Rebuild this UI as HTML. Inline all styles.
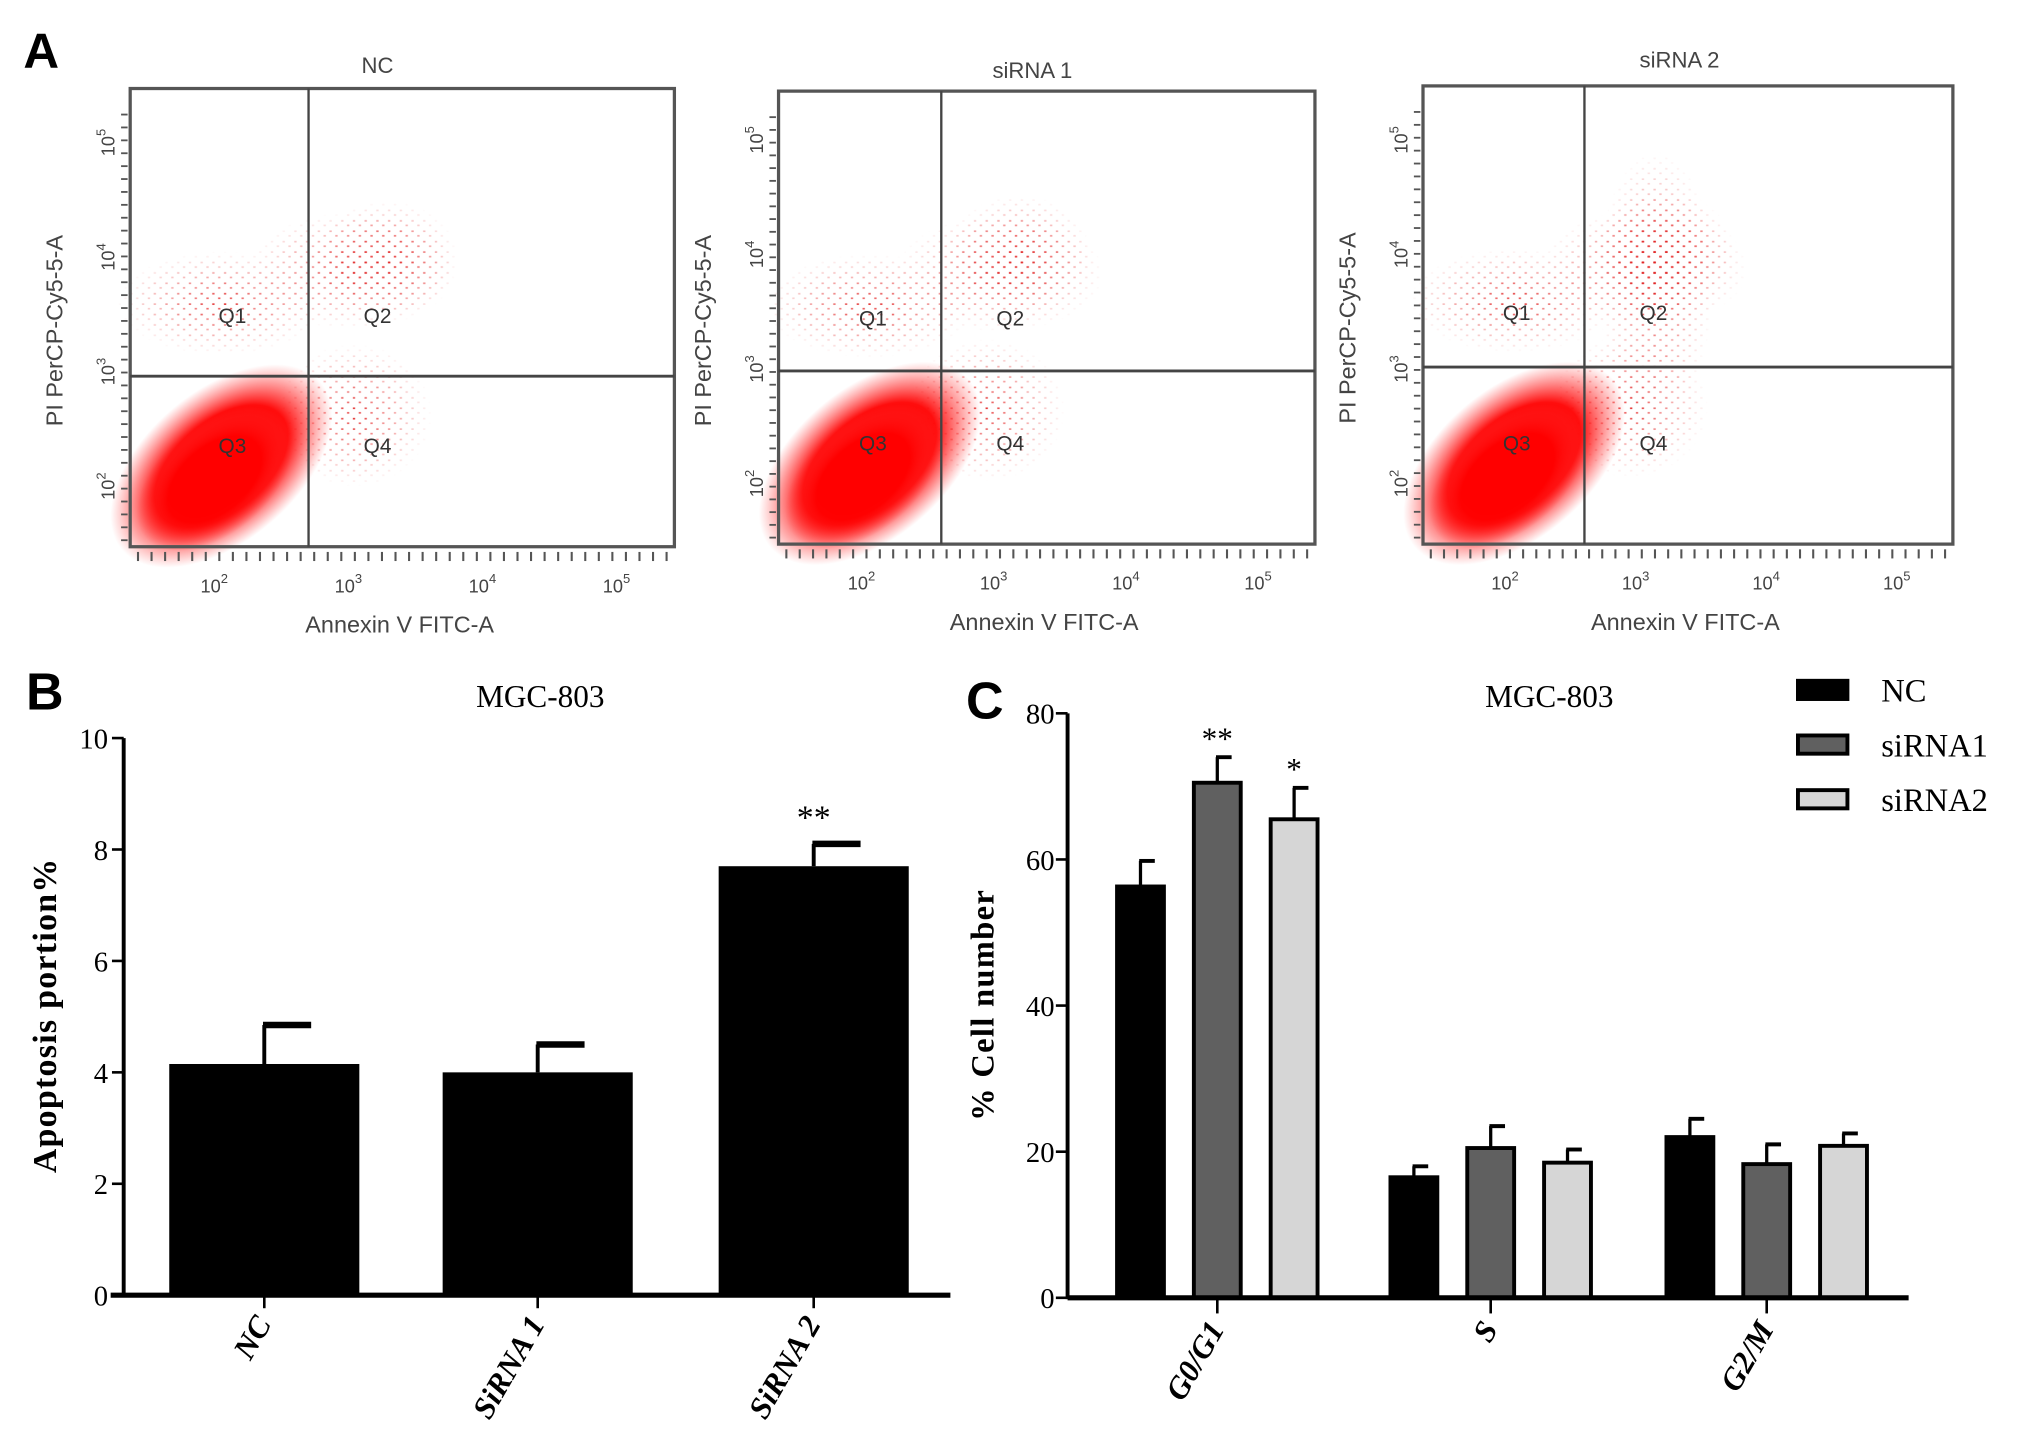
<!DOCTYPE html>
<html><head><meta charset="utf-8"><style>
html,body{margin:0;padding:0;background:#fff}
svg{display:block}
text{font-family:"Liberation Serif",serif}
.sans{font-family:"Liberation Sans",sans-serif}
</style></head><body>
<svg id="fig" width="2031" height="1441" viewBox="0 0 1560 1107" preserveAspectRatio="none" xmlns="http://www.w3.org/2000/svg">
<defs>
<radialGradient id="core" cx="50%" cy="50%" r="50%">
<stop offset="0" stop-color="#ff0000" stop-opacity="1"/>
<stop offset="0.6" stop-color="#ff0000" stop-opacity="0.95"/>
<stop offset="1" stop-color="#ff3030" stop-opacity="0"/>
</radialGradient>
<pattern id="dots" width="9" height="8" patternUnits="userSpaceOnUse">
<rect x="1" y="1" width="1.8" height="1.3" fill="#e02020"/>
<rect x="5.5" y="4.5" width="1.8" height="1.3" fill="#e84040"/>
</pattern>
<radialGradient id="fade" cx="50%" cy="50%" r="50%">
<stop offset="0" stop-color="#fff" stop-opacity="1"/>
<stop offset="1" stop-color="#fff" stop-opacity="0"/>
</radialGradient>
<mask id="m1" maskContentUnits="objectBoundingBox"><rect width="1" height="1" fill="url(#fade)"/></mask>
</defs>

<text x="18" y="52" class="sans" font-size="38" font-weight="bold">A</text>
<g id="flow"></g>

<!-- Panel B -->
<text x="20" y="545" class="sans" font-size="40" font-weight="bold">B</text>
<text x="415" y="543" font-size="24" text-anchor="middle">MGC-803</text>
<text transform="translate(43,780) rotate(-90)" font-size="26" font-weight="bold" text-anchor="middle" letter-spacing="1">Apoptosis portion%</text>
<g id="chartB"></g>

<!-- Panel C -->
<text x="742" y="552" class="sans" font-size="40" font-weight="bold">C</text>
<text x="1190" y="543" font-size="24" text-anchor="middle">MGC-803</text>
<text transform="translate(763,772) rotate(-90)" font-size="25" font-weight="bold" text-anchor="middle" letter-spacing="1">% Cell number</text>
<g id="chartC"></g>
<g id="legend"></g>
</svg>
<script>
// ---- Chart B data ----
const bCategories = ["NC", "SiRNA 1", "SiRNA 2"];
const bValues = [4.15, 4.0, 7.7];
const bErrors = [0.7, 0.5, 0.4];
const bTicks = [0, 2, 4, 6, 8, 10];
const bSig = ["", "", "**"];

// ---- Chart C data ----
const cCategories = ["G0/G1", "S", "G2/M"];
const cSeriesNames = ["NC", "siRNA1", "siRNA2"];
const cNC = [56.3, 16.5, 22.0];
const cSi1 = [70.5, 20.5, 18.3];
const cSi2 = [65.5, 18.5, 20.8];
const cErrNC = [3.5, 1.5, 2.5];
const cErrSi1 = [3.5, 3.0, 2.7];
const cErrSi2 = [4.3, 1.8, 1.7];
const cSigSi1 = ["**", "", ""];
const cSigSi2 = ["*", "", ""];
const cTicks = [0, 20, 40, 60, 80];

const NS = "http://www.w3.org/2000/svg";
function mk(tag, attrs, parent, txt) {
  const e = document.createElementNS(NS, tag);
  for (const k in attrs) e.setAttribute(k, attrs[k]);
  if (txt !== undefined) e.textContent = txt;
  parent.appendChild(e);
  return e;
}

// ---------- Chart B ----------
(function () {
  const g = document.getElementById("chartB");
  const x0 = 95, y0 = 995, yTop = 567, ymax = 10;
  const yS = v => y0 - (v / ymax) * (y0 - yTop);
  const centers = [203, 413, 625], bw = 146;
  const xS = i => centers[i];
  let ax = mk("line", {x1: x0, y1: yTop, x2: x0, y2: y0 + 1, stroke: "#000", "stroke-width": 3}, g);
  
  
  bTicks.forEach(t => {
    const tk = mk("line", {x1: x0 - 9, y1: yS(t), x2: x0, y2: yS(t), stroke: "#000", "stroke-width": 2}, g);
    
    
    const lb = mk("text", {x: x0 - 12, y: yS(t) + 8, "font-size": 22, "text-anchor": "end"}, g, String(t));
    
    
  });
  let xa = mk("line", {x1: 85, y1: y0, x2: 730, y2: y0, stroke: "#000", "stroke-width": 4}, g);
  
  
  bCategories.forEach((c, i) => {
    const cx = xS(i);
    const eb = mk("line", {x1: cx, y1: yS(bValues[i]), x2: cx, y2: yS(bValues[i] + bErrors[i]), stroke: "#000", "stroke-width": 3}, g);
    
    
    const cap = mk("line", {x1: cx - 1, y1: yS(bValues[i] + bErrors[i]), x2: cx + 36, y2: yS(bValues[i] + bErrors[i]), stroke: "#000", "stroke-width": 5}, g);
    
    
    const r = mk("rect", {x: cx - bw / 2, y: yS(bValues[i]), width: bw, height: y0 - yS(bValues[i]), fill: "#000"}, g);
    
    
    const tk = mk("line", {x1: cx, y1: y0, x2: cx, y2: y0 + 10, stroke: "#000", "stroke-width": 2}, g);
    
    
    const lb = mk("text", {transform: `translate(${cx + 6},${y0 + 22}) rotate(-60)`, "font-size": 24, "font-weight": "bold", "font-style": "italic", "text-anchor": "end"}, g, c);
    
    
    if (bSig[i]) {
      const s = mk("text", {x: cx, y: yS(bValues[i] + bErrors[i]) - 12, "font-size": 26, "text-anchor": "middle"}, g, bSig[i]);
      
      
    }
  });
})();

// ---------- Chart C ----------
(function () {
  const g = document.getElementById("chartC");
  const x0 = 820, y0 = 997, yTop = 548, ymax = 80;
  const yS = v => y0 - (v / ymax) * (y0 - yTop);
  const groupCenters = [935, 1145, 1357];
  const offs = [-59, 0, 59], bw = 36;
  const series = [cNC, cSi1, cSi2];
  const errs = [cErrNC, cErrSi1, cErrSi2];
  const sigs = [null, cSigSi1, cSigSi2];
  const fills = ["#000", "#606060", "#d6d6d6"];
  let ax = mk("line", {x1: x0, y1: yTop, x2: x0, y2: y0 + 1, stroke: "#000", "stroke-width": 3}, g);
  
  
  cTicks.forEach(t => {
    const tk = mk("line", {x1: x0 - 9, y1: yS(t), x2: x0, y2: yS(t), stroke: "#000", "stroke-width": 2}, g);
    
    
    const lb = mk("text", {x: x0 - 10, y: yS(t) + 8, "font-size": 22, "text-anchor": "end"}, g, String(t));
    
    
  });
  cCategories.forEach((c, gi) => {
    series.forEach((s, si) => {
      const cx = groupCenters[gi] + offs[si];
      const top = yS(s[gi] + errs[si][gi]);
      const eb = mk("line", {x1: cx, y1: yS(s[gi]), x2: cx, y2: top, stroke: "#000", "stroke-width": 2.5}, g);
      
      
      const cap = mk("line", {x1: cx - 1, y1: top, x2: cx + 11, y2: top, stroke: "#000", "stroke-width": 3}, g);
      
      
      const r = mk("rect", {x: cx - bw / 2, y: yS(s[gi]), width: bw, height: y0 - yS(s[gi]), fill: fills[si], stroke: "#000", "stroke-width": 3}, g);
      
      
      if (sigs[si] && sigs[si][gi]) {
        const t = mk("text", {x: cx, y: top - 6, "font-size": 24, "text-anchor": "middle"}, g, sigs[si][gi]);
        
        
      }
    });
    const gc = groupCenters[gi];
    const tk = mk("line", {x1: gc, y1: y0, x2: gc, y2: y0 + 12, stroke: "#000", "stroke-width": 2}, g);
    
    
    const lb = mk("text", {transform: `translate(${gc + 6},${y0 + 24}) rotate(-60)`, "font-size": 24, "font-weight": "bold", "font-style": "italic", "text-anchor": "end"}, g, c);
    
    
  });
  let xa = mk("line", {x1: x0, y1: y0, x2: 1466, y2: y0, stroke: "#000", "stroke-width": 4}, g);
  
  
  const lg = document.getElementById("legend");
  cSeriesNames.forEach((n, i) => {
    const y = 530 + i * 42;
    const sw = mk("rect", {x: 1381, y: y - 7, width: 38, height: 14, fill: fills[i], stroke: "#000", "stroke-width": 3}, lg);
    
    
    const t = mk("text", {x: 1445, y: y + 9, "font-size": 25}, lg, n);
    
    
  });
})();

// ---------- Flow cytometry panels ----------
const flowTitles = ["NC", "siRNA 1", "siRNA 2"];
(function () {
  const root = document.getElementById("flow");
  const boxes = [
    {x1: 100, x2: 518, y1: 68, y2: 420, gx: 237, gy: 289, tx: 290, ty: 56},
    {x1: 598, x2: 1010, y1: 70, y2: 418, gx: 723, gy: 285, tx: 793, ty: 60},
    {x1: 1093, x2: 1500, y1: 66, y2: 418, gx: 1217, gy: 282, tx: 1290, ty: 52}
  ];
  boxes.forEach((b, i) => {
    const g = mk("g", {}, root);
    
    
    const w = b.x2 - b.x1;
    const sx = w / 418;
    const t = mk("text", {x: b.tx, y: b.ty, "font-size": 17, "text-anchor": "middle", "class": "sans", fill: "#444"}, g, flowTitles[i]);
    
    
    const clouds = [
      [b.x1 + 70, b.y1 + 165, 80, 40],
      [b.x1 + 170, b.y1 + 140, 80, 45],
      [b.gx + 60, b.gy - 90, 55, 45],
      [b.gx + 35, b.gy + 30, 60, 55]
    ];
    if (i === 2) clouds.push([b.gx + 55, b.y1 + 150, 45, 100]);
    clouds.forEach(c => {
      const e = mk("ellipse", {cx: c[0], cy: c[1], rx: c[2], ry: c[3], fill: "url(#dots)", mask: "url(#m1)", opacity: 0.9}, g);
      
      
    });
    const ccx = b.x1 + 70, ccy = b.y2 - 62;
    const cc = mk("ellipse", {cx: ccx, cy: ccy, rx: 100, ry: 58, fill: "url(#core)", transform: `rotate(-40 ${ccx} ${ccy})`}, g);
    
    
    const cc2 = mk("ellipse", {cx: ccx - 5, cy: ccy + 10, rx: 70, ry: 42, fill: "url(#core)", transform: `rotate(-40 ${ccx - 5} ${ccy + 10})`}, g);
    
    
    mk("rect", {x: b.x1, y: b.y1, width: w, height: b.y2 - b.y1, fill: "none", stroke: "#555", "stroke-width": 2.5}, g);
    mk("line", {x1: b.gx, y1: b.y1, x2: b.gx, y2: b.y2, stroke: "#444", "stroke-width": 1.8}, g);
    mk("line", {x1: b.x1, y1: b.gy, x2: b.x2, y2: b.gy, stroke: "#444", "stroke-width": 2.2}, g);
    const qx1 = (b.x1 + b.gx) / 2 + 10, qx2 = b.gx + 53;
    [["Q1", qx1, b.y1 + 180], ["Q2", qx2, b.y1 + 180], ["Q3", qx1, b.y2 - 72], ["Q4", qx2, b.y2 - 72]].forEach(q => {
      const qt = mk("text", {x: q[1], y: q[2], "font-size": 16, "text-anchor": "middle", "class": "sans", fill: "#333"}, g, q[0]);
      
      
    });
    for (let k = 0; k < 40; k++) {
      const xx = b.x1 + 6 + k * (w - 12) / 39;
      mk("line", {x1: xx, y1: b.y2 + 4, x2: xx, y2: b.y2 + 11, stroke: "#555", "stroke-width": 1.6}, g);
    }
    for (let k = 0; k < 34; k++) {
      const yy = b.y1 + 20 + k * (b.y2 - b.y1 - 25) / 33;
      mk("line", {x1: b.x1 - 7, y1: yy, x2: b.x1 - 2, y2: yy, stroke: "#555", "stroke-width": 1.4}, g);
    }
    ["2", "3", "4", "5"].forEach((p, k) => {
      const xx = b.x1 + 60 * sx + k * 103 * sx;
      const lb = mk("text", {x: xx - 6, y: b.y2 + 35, "font-size": 14, "class": "sans", fill: "#444"}, g);
      
      
      lb.innerHTML = '10<tspan dy="-7" font-size="10">' + p + '</tspan>';
      const yy = b.y2 - 48 - k * 88;
      const ly = mk("text", {transform: `translate(${b.x1 - 12},${yy + 12}) rotate(-90)`, "font-size": 14, "class": "sans", fill: "#444"}, g);
      
      
      ly.innerHTML = '10<tspan dy="-7" font-size="10">' + p + '</tspan>';
    });
    const xl = mk("text", {x: b.x1 + 207 * sx, y: b.y2 + 66, "font-size": 18, "text-anchor": "middle", "class": "sans", fill: "#444"}, g, "Annexin V FITC-A");
    
    
    const yl = mk("text", {transform: `translate(${b.x1 - 52},${(b.y1 + b.y2) / 2 + 10}) rotate(-90)`, "font-size": 18, "text-anchor": "middle", "class": "sans", fill: "#444"}, g, "PI PerCP-Cy5-5-A");
    
    
  });
})();
</script>
</body></html>
